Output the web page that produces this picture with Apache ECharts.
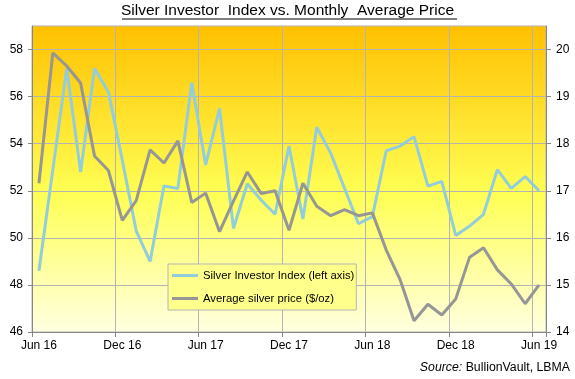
<!DOCTYPE html>
<html>
<head>
<meta charset="utf-8">
<script src="https://cdn.jsdelivr.net/npm/echarts@6/dist/echarts.min.js"></script>
<style>
html,body{margin:0;padding:0;background:#fff;}
#chart{width:575px;height:379px;}
</style>
</head>
<body>
<div id="chart"></div>
<script>
var categories = ['Jun 16','Jul 16','Aug 16','Sep 16','Oct 16','Nov 16','Dec 16','Jan 17','Feb 17','Mar 17','Apr 17','May 17',
  'Jun 17','Jul 17','Aug 17','Sep 17','Oct 17','Nov 17','Dec 17','Jan 18','Feb 18','Mar 18','Apr 18','May 18',
  'Jun 18','Jul 18','Aug 18','Sep 18','Oct 18','Nov 18','Dec 18','Jan 19','Feb 19','Mar 19','Apr 19','May 19','Jun 19'];
var investorIndex = [48.6, 52.9, 57.2, 52.8, 57.2, 56.2, 53.3, 50.3, 49.0, 52.2, 52.1, 56.6,
  53.1, 55.5, 50.4, 52.3, 51.6, 51.0, 53.9, 50.8, 54.7, 53.6, 52.1, 50.6,
  50.9, 53.7, 53.9, 54.3, 52.2, 52.4, 50.1, 50.5, 51.0, 52.9, 52.1, 52.6, 52.0];
var silverPrice = [17.16, 19.93, 19.65, 19.29, 17.74, 17.43, 16.37, 16.79, 17.87, 17.59, 18.06, 16.75,
  16.95, 16.13, 16.78, 17.40, 16.94, 17.00, 16.16, 17.16, 16.67, 16.47, 16.60, 16.47,
  16.53, 15.74, 15.11, 14.24, 14.59, 14.36, 14.70, 15.59, 15.79, 15.32, 15.02, 14.60, 15.00];
var leftTicks = [46, 48, 50, 52, 54, 56, 58];
var rightTicks = [14, 15, 16, 17, 18, 19, 20];
var seriesNames = ['Silver Investor Index (left axis)', 'Average silver price ($/oz)'];
var titleText = 'Silver Investor  Index vs. Monthly  Average Price';

var FONT = "'Liberation Sans', Arial, sans-serif";
var chart = echarts.init(document.getElementById('chart'), null, {renderer: 'canvas'});
var option = {
  animation: false,
  backgroundColor: '#ffffff',
  textStyle: {fontFamily: FONT},
  title: [{
    text: titleText,
    left: 'center',
    top: 3,
    padding: 0,
    textStyle: {fontSize: 15.5, fontWeight: 'normal', color: '#000', fontFamily: FONT}
  }, {
    text: '{i|Source:} BullionVault, LBMA',
    right: 5,
    top: 362,
    padding: 0,
    textStyle: {
      fontSize: 12.3, fontWeight: 'normal', color: '#000', fontFamily: FONT,
      rich: {i: {fontStyle: 'italic', fontSize: 12.3, fontFamily: FONT, color: '#000'}}
    }
  }],
  graphic: [{
    type: 'line',
    shape: {x1: 122, y1: 19, x2: 457, y2: 19},
    style: {stroke: '#000', lineWidth: 1}
  }],
  grid: {
    left: 32, right: 29, top: 26, bottom: 47,
    show: true,
    borderWidth: 1,
    borderColor: '#B4B4B4',
    backgroundColor: new echarts.graphic.LinearGradient(0, 0, 0, 1, [
      {offset: 0, color: '#FFC000'},
      {offset: 0.55, color: '#FFFF55'},
      {offset: 1, color: '#FFFFE0'}
    ])
  },
  legend: {
    orient: 'vertical',
    left: 168, top: 264,
    padding: [6, 2, 6, 4],
    itemGap: 12,
    itemWidth: 26, itemHeight: 3,
    icon: 'rect',
    backgroundColor: '#FFFF8C',
    borderColor: '#B4B4B4',
    borderWidth: 1,
    textStyle: {fontSize: 11.3, color: '#000', fontFamily: FONT},
    data: seriesNames
  },
  xAxis: {
    type: 'category',
    data: categories,
    boundaryGap: true,
    axisLine: {lineStyle: {color: '#868686', width: 1}},
    axisTick: {show: true, interval: 5, length: 5, lineStyle: {color: '#868686'}},
    axisLabel: {interval: 5, margin: 8, color: '#000', fontSize: 12, fontFamily: FONT},
    splitLine: {show: true, interval: 5, lineStyle: {color: '#B4B4B4', width: 1}}
  },
  yAxis: [{
    type: 'value',
    min: 46, max: 59, interval: 2,
    position: 'left',
    axisLine: {show: true, lineStyle: {color: '#868686'}},
    axisTick: {show: true, length: 4, customValues: leftTicks, lineStyle: {color: '#868686'}},
    axisLabel: {margin: 9, color: '#000', fontSize: 12, fontFamily: FONT, customValues: leftTicks},
    splitLine: {show: true, lineStyle: {color: '#B4B4B4', width: 1}}
  }, {
    type: 'value',
    min: 14, max: 20.5, interval: 1,
    position: 'right',
    axisLine: {show: true, lineStyle: {color: '#868686'}},
    axisTick: {show: true, length: 5, customValues: rightTicks, lineStyle: {color: '#868686'}},
    axisLabel: {margin: 10, color: '#000', fontSize: 12, fontFamily: FONT, customValues: rightTicks},
    splitLine: {show: false}
  }],
  series: [{
    name: seriesNames[0],
    type: 'line',
    yAxisIndex: 0,
    data: investorIndex,
    symbol: 'none',
    lineStyle: {color: '#92CDDC', width: 3},
    itemStyle: {color: '#92CDDC'}
  }, {
    name: seriesNames[1],
    type: 'line',
    yAxisIndex: 1,
    data: silverPrice,
    symbol: 'none',
    lineStyle: {color: '#969696', width: 3},
    itemStyle: {color: '#969696'}
  }]
};
chart.setOption(option);
</script>
</body>
</html>
